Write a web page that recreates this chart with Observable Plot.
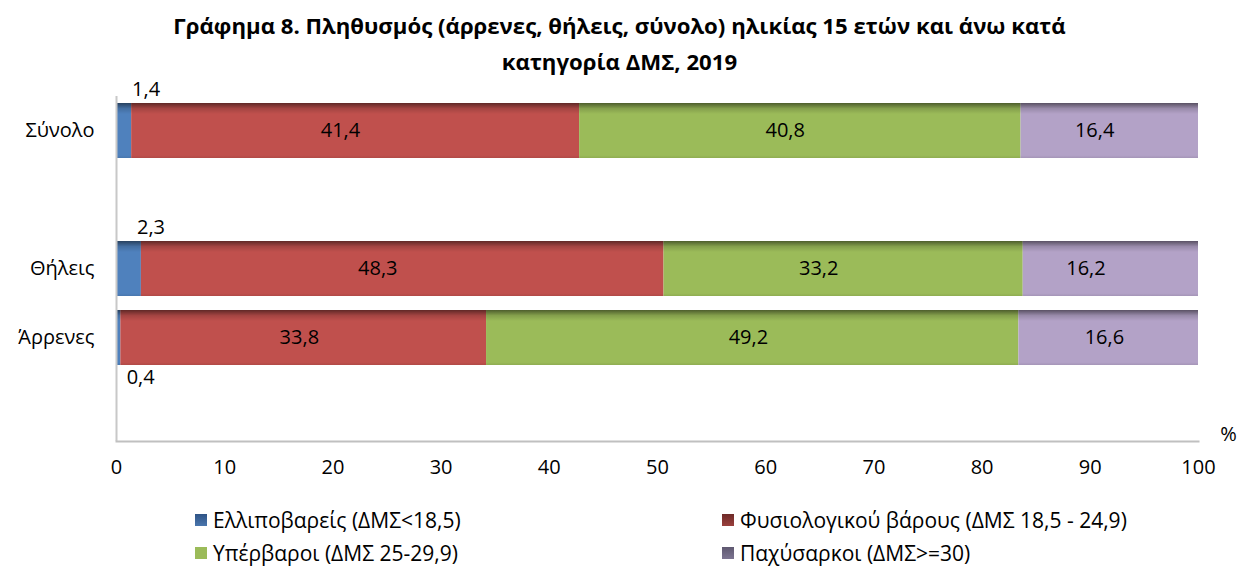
<!DOCTYPE html>
<html>
<head>
<meta charset="utf-8">
<script src="https://cdn.jsdelivr.net/npm/d3@7"></script>
<script src="https://cdn.jsdelivr.net/npm/@observablehq/plot@0.6"></script>
<style>
  html, body { margin: 0; padding: 0; background: #fff; }
  body { width: 1239px; height: 569px; overflow: hidden; font-family: "Open Sans", sans-serif; color: #000; }
  #title { width: 1239px; text-align: center; font-weight: bold; font-size: 22.2px; line-height: 36px; padding-top: 8px; height: 73px; box-sizing: border-box; white-space: nowrap; }
  #chart { height: 420px; }
  #legend { position: relative; height: 76px; font-size: 21px; }
  .item { position: absolute; display: flex; align-items: center; white-space: nowrap; }
  .sw { width: 12px; height: 12px; margin-right: 6px; }
</style>
</head>
<body>
<div id="title">Γράφημα 8. Πληθυσμός (άρρενες, θήλεις, σύνολο) ηλικίας 15 ετών και άνω κατά<br>κατηγορία ΔΜΣ, 2019</div>
<div id="chart"></div>
<div id="legend"></div>
<script>
const categories = ["Σύνολο", "Θήλεις", "Άρρενες"];
const yDomain = ["Σύνολο", "gap1", "Θήλεις", "Άρρενες", "gap2"];
const series = [
  "Ελλιποβαρείς (ΔΜΣ<18,5)",
  "Φυσιολογικού βάρους (ΔΜΣ 18,5 - 24,9)",
  "Υπέρβαροι (ΔΜΣ 25-29,9)",
  "Παχύσαρκοι (ΔΜΣ>=30)"
];
const underweight = [1.4, 2.3, 0.4];
const normalWeight = [41.4, 48.3, 33.8];
const overweight = [40.8, 33.2, 49.2];
const obese = [16.4, 16.2, 16.6];
const barColors = ["#4F81BD", "#C0504D", "#9BBB59", "#B3A2C7"];
const legendColors = [
  "linear-gradient(#2f5486, #4a76ad)",
  "linear-gradient(#6e2a28, #9a403d)",
  "linear-gradient(#9BBB59, #9BBB59)",
  "linear-gradient(#5f5870, #7d7592)"
];
const xTicks = [0, 10, 20, 30, 40, 50, 60, 70, 80, 90, 100];
// small-segment labels: placement above or below the bar
const smallLabelPos = ["above", "above", "below"];

const seriesValues = [underweight, normalWeight, overweight, obese];
const rows = [];
categories.forEach((c, i) => {
  series.forEach((s, j) => {
    rows.push({cat: c, series: s, value: seriesValues[j][i], pos: smallLabelPos[i]});
  });
});
const fmt = v => v.toFixed(1).replace(".", ",");
const big = rows.filter(d => d.value >= 5);
const small = rows.filter(d => d.value < 5);

const stackOpts = {x: "value", y: "cat", z: "series", order: series};
const FS = 20;

const plot = Plot.plot({
  width: 1239,
  height: 420,
  marginTop: 23,
  marginBottom: 52,
  marginLeft: 116,
  marginRight: 41,
  style: {fontFamily: "'Open Sans', sans-serif", fontSize: FS + "px", color: "#000", background: "#fff"},
  x: {domain: [0, 100], ticks: xTicks, tickSize: 0, tickPadding: 18, tickFormat: d => String(d), label: null},
  y: {domain: yDomain, paddingInner: 0.2, paddingOuter: 0.1, tickSize: 0, tickPadding: 22, tickFormat: d => d.startsWith("gap") ? "" : d, label: null},
  color: {domain: series, range: barColors},
  marks: [
    Plot.barX(rows, Plot.stackX({...stackOpts, fill: "series"})),
    Plot.barX(rows, Plot.stackX({...stackOpts, fill: "url(#shadeV)"})),
    Plot.ruleX([0], {stroke: "#c8c8c8", strokeWidth: 2}),
    Plot.frame({anchor: "bottom", stroke: "#c0c0c0", strokeWidth: 2}),
    Plot.text(big, Plot.stackX({...stackOpts, text: d => fmt(d.value), fill: "#000", fontSize: FS})),
    Plot.text(small.filter(d => d.pos === "above"), Plot.stackX({...stackOpts, text: d => fmt(d.value), fill: "#000", fontSize: FS, textAnchor: "start", dx: 8, dy: -41})),
    Plot.text(small.filter(d => d.pos === "below"), Plot.stackX({...stackOpts, text: d => fmt(d.value), fill: "#000", fontSize: FS, textAnchor: "start", dx: 8, dy: 40})),
    Plot.text(["%"], {frameAnchor: "bottom-right", text: d => d, textAnchor: "middle", lineAnchor: "bottom", dx: 30, dy: -1, fontSize: FS})
  ]
});

const defs = d3.select(plot).insert("defs", ":first-child");
const g = defs.append("linearGradient").attr("id", "shadeV").attr("x1", 0).attr("x2", 0).attr("y1", 0).attr("y2", 1);
g.append("stop").attr("offset", "0").attr("stop-color", "#000").attr("stop-opacity", 0.5);
g.append("stop").attr("offset", "0.1").attr("stop-color", "#000").attr("stop-opacity", 0.15);
g.append("stop").attr("offset", "0.2").attr("stop-color", "#000").attr("stop-opacity", 0);
g.append("stop").attr("offset", "0.95").attr("stop-color", "#000").attr("stop-opacity", 0);
g.append("stop").attr("offset", "1").attr("stop-color", "#000").attr("stop-opacity", 0.08);

document.getElementById("chart").appendChild(plot);

const legend = document.getElementById("legend");
const legendPos = [[195, 13], [722, 13], [195, 46], [722, 46]];
series.forEach((s, i) => {
  const it = document.createElement("div");
  it.className = "item";
  it.style.left = legendPos[i][0] + "px";
  it.style.top = legendPos[i][1] + "px";
  const sw = document.createElement("span");
  sw.className = "sw";
  sw.style.background = legendColors[i];
  const tx = document.createElement("span");
  tx.textContent = s;
  it.appendChild(sw);
  it.appendChild(tx);
  legend.appendChild(it);
});
</script>
</body>
</html>
